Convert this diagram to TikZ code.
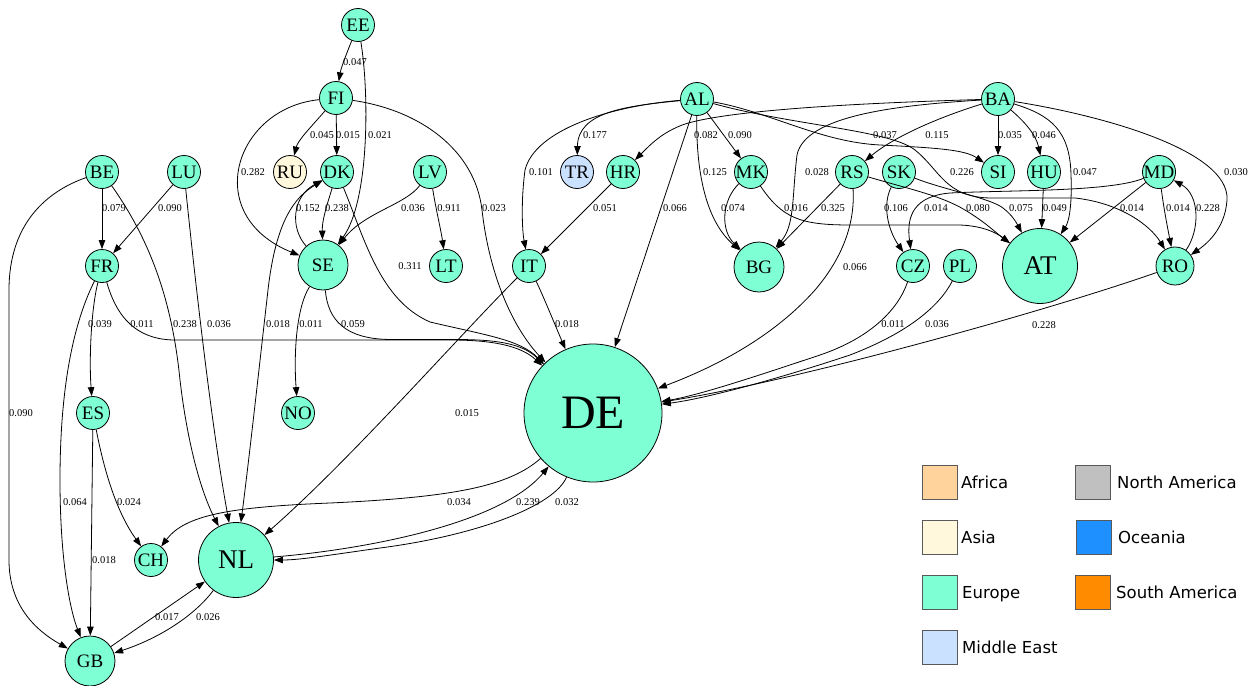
\documentclass[tikz,border=0pt]{standalone}
\usepackage{fontspec}
\setmainfont{Liberation Serif}
\newfontfamily\legendfont{DejaVu Sans}
\usetikzlibrary{arrows.meta}
\definecolor{europe}{HTML}{7FFFD4}
\definecolor{asia}{HTML}{FFF8DC}
\definecolor{africa}{HTML}{FFD39B}
\definecolor{mideast}{HTML}{CAE1FF}
\definecolor{namerica}{HTML}{C0C0C0}
\definecolor{oceania}{HTML}{1E90FF}
\definecolor{samerica}{HTML}{FF8C00}
\begin{document}
\begin{tikzpicture}[x=1pt,y=-1pt,
  >={Triangle[length=9pt,width=6.5pt]},
  country/.style={circle,draw=black,line width=0.8pt,fill=europe,inner sep=0pt,
    minimum size=33pt,font=\fontsize{19}{19}\selectfont},
  midc/.style={country,minimum size=50pt},
  bigc/.style={country,minimum size=75pt,font=\fontsize{27}{27}\selectfont},
  hugec/.style={country,minimum size=138pt,font=\fontsize{48}{48}\selectfont},
  flow/.style={draw,line width=0.8pt,->},
  twoway/.style={draw,line width=0.8pt,<->},
  lab/.style={font=\fontsize{10.5}{10.5}\selectfont,inner sep=0pt},
  keybox/.style={draw=black!65,line width=1pt,minimum width=35pt,minimum height=34pt,inner sep=0pt},
  keytext/.style={anchor=base west,inner sep=0pt,font=\legendfont\fontsize{16.5}{16.5}\selectfont}
]
\useasboundingbox (0,0) rectangle (1257,685);

% countries
\node[country] (EE) at (358,25) {EE};
\node[country] (FI) at (336,98) {FI};
\node[country,fill=asia] (RU) at (290,172) {RU};
\node[country] (DK) at (337,172) {DK};
\node[country] (LV) at (430,172) {LV};
\node[midc] (SE) at (323,265) {SE};
\node[country] (LT) at (446,266) {LT};
\node[country] (IT) at (529,266) {IT};
\node[country] (AL) at (697,99) {AL};
\node[country,fill=mideast] (TR) at (577,172) {TR};
\node[country] (HR) at (623,172) {HR};
\node[country] (MK) at (751,172) {MK};
\node[midc] (BG) at (759,267) {BG};
\node[country] (BA) at (998,99) {BA};
\node[country] (RS) at (852,172) {RS};
\node[country] (SK) at (899,172) {SK};
\node[country] (SI) at (998,172) {SI};
\node[country] (HU) at (1044,172) {HU};
\node[country] (MD) at (1159,172) {MD};
\node[country] (CZ) at (913,266) {CZ};
\node[country] (PL) at (960,266) {PL};
\node[bigc] (AT) at (1040,266) {AT};
\node[country,minimum size=38pt] (RO) at (1175,266) {RO};
\node[country] (BE) at (102,172) {BE};
\node[country] (LU) at (184,172) {LU};
\node[country] (FR) at (102,266) {FR};
\node[country] (ES) at (93,413) {ES};
\node[country] (NO) at (298,413) {NO};
\node[hugec] (DE) at (593,413) {DE};
\node[country] (CH) at (151,560) {CH};
\node[bigc] (NL) at (236,560) {NL};
\node[midc] (GB) at (90,661) {GB};

% flows
\draw[flow] (EE) .. controls (346,55) and (341,68) .. (FI);
\draw[flow] (EE) .. controls (369,90) and (370,200) .. (SE);
\draw[flow] (FI) .. controls (312,126) and (298,140) .. (RU);
\draw[flow] (FI) -- (DK);
\draw[flow] (FI) .. controls (235,108) and (200,215) .. (SE);
\draw[flow] (FI) .. controls (420,110) and (475,150) .. (482,210) .. controls (490,280) and (515,330) .. (DE);
\draw[flow] (DK) .. controls (327,205) and (322,220) .. (SE);
\draw[flow] (SE) .. controls (290,228) and (292,197) .. (DK);
\draw[twoway] (NL) .. controls (249,460) and (260,360) .. (268,290) .. controls (276,220) and (295,197) .. (DK);
\draw[flow] (DK) .. controls (365,240) and (380,300) .. (430,322) .. controls (490,336) and (520,340) .. (DE);
\draw[flow] (LV) .. controls (405,205) and (365,212) .. (SE);
\draw[flow] (LV) .. controls (436,210) and (441,230) .. (LT);
\draw[flow] (AL) .. controls (625,106) and (578,112) .. (TR);
\draw[flow] (AL) .. controls (610,106) and (535,130) .. (525,170) .. controls (521,200) and (522,230) .. (IT);
\draw[flow] (BA) .. controls (860,103) and (730,110) .. (685,124) .. controls (662,132) and (650,145) .. (HR);
\draw[flow] (AL) -- (MK);
\draw[flow] (AL) .. controls (696,170) and (705,220) .. (BG);
\draw[flow] (AL) -- (DE);
\draw[flow] (HR) -- (IT);
\draw[flow] (MK) .. controls (722,200) and (720,230) .. (BG);
\draw[flow] (MK) .. controls (782,218) and (800,225) .. (850,225) -- (960,225) .. controls (985,226) and (998,234) .. (AT);
\draw[flow] (RS) -- (BG);
\draw[flow] (BA) .. controls (900,105) and (805,115) .. (797,155) .. controls (792,195) and (795,225) .. (BG);
\draw[flow] (BA) .. controls (930,120) and (890,140) .. (RS);
\draw[flow] (AL) .. controls (770,112) and (820,142) .. (880,145) .. controls (940,148) and (965,150) .. (SI);
\draw[flow] (AL) .. controls (790,125) and (890,130) .. (915,150) .. controls (940,170) and (945,197) .. (990,198) -- (1075,198) .. controls (1120,203) and (1150,225) .. (RO);
\draw[flow] (BA) -- (SI);
\draw[flow] (BA) .. controls (1025,122) and (1036,135) .. (HU);
\draw[flow] (BA) .. controls (1050,115) and (1070,130) .. (1071,175) .. controls (1072,200) and (1070,220) .. (AT);
\draw[flow] (BA) .. controls (1100,115) and (1230,150) .. (1227,200) .. controls (1225,230) and (1205,245) .. (RO);
\draw[flow] (HU) -- (AT);
\draw[flow] (MD) -- (AT);
\draw[flow] (MD) .. controls (1164,210) and (1168,230) .. (RO);
\draw[flow] (RO) .. controls (1200,230) and (1200,195) .. (MD);
\draw[flow] (MD) .. controls (1110,192) and (1010,190) .. (950,193) .. controls (915,196) and (906,215) .. (CZ);
\draw[flow] (SK) .. controls (882,205) and (888,230) .. (CZ);
\draw[flow] (RS) .. controls (905,188) and (940,195) .. (965,210) .. controls (985,222) and (995,232) .. (AT);
\draw[flow] (SK) .. controls (945,190) and (990,198) .. (1003,208) .. controls (1012,215) and (1016,222) .. (AT);
\draw[flow] (RS) .. controls (855,220) and (845,255) .. (815,290) .. controls (775,335) and (720,365) .. (DE);
\draw[flow] (CZ) .. controls (898,310) and (870,338) .. (820,355) .. controls (760,375) and (700,395) .. (DE);
\draw[flow] (PL) .. controls (940,305) and (910,332) .. (850,355) .. controls (790,375) and (710,398) .. (DE);
\draw[flow] (RO) .. controls (1050,310) and (800,380) .. (DE);
\draw[flow] (IT) .. controls (545,300) and (555,325) .. (DE);
\draw[flow] (IT) .. controls (460,335) and (350,460) .. (NL);
\draw[flow] (FR) .. controls (112,300) and (125,340) .. (175,340) -- (450,340) .. controls (490,340) and (520,345) .. (DE);
\draw[flow] (SE) .. controls (328,320) and (345,339) .. (390,339.5) -- (455,339.5) .. controls (495,339.5) and (522,343) .. (DE);
\draw[flow] (SE) .. controls (295,310) and (294,360) .. (NO);
\draw[flow] (BE) -- (FR);
\draw[flow] (LU) -- (FR);
\draw[flow] (BE) .. controls (150,240) and (172,300) .. (180,380) .. controls (187,440) and (200,490) .. (NL);
\draw[flow] (LU) .. controls (195,280) and (212,430) .. (NL);
\draw[flow] (BE) .. controls (45,192) and (9,225) .. (9,290) -- (9,560) .. controls (9,605) and (35,630) .. (GB);
\draw[flow] (FR) .. controls (91,310) and (89,360) .. (ES);
\draw[flow] (FR) .. controls (70,330) and (60,400) .. (60,480) .. controls (60,560) and (70,610) .. (GB);
\draw[flow] (ES) -- (GB);
\draw[flow] (ES) .. controls (103,465) and (115,510) .. (CH);
\draw[flow] (DE) .. controls (510,485) and (460,497) .. (330,503) .. controls (230,507) and (185,515) .. (CH);
\draw[flow] (NL) .. controls (360,550) and (500,525) .. (DE);
\draw[flow] (DE) .. controls (555,505) and (480,535) .. (380,548) .. controls (330,555) and (300,560) .. (NL);
\draw[flow] (GB) -- (NL);
\draw[flow] (NL) .. controls (195,615) and (160,638) .. (GB);

% flow shares
\node[lab] (tEEFI) at (355,62) {0.047};
\node[lab] (tEESE) at (380,135) {0.021};
\node[lab] (tFIRU) at (322,135) {0.045};
\node[lab] (tFIDK) at (348,135) {0.015};
\node[lab] (tFISE) at (253,172) {0.282};
\node[lab] (tSEDK) at (308,208) {0.152};
\node[lab] (tDKSE) at (337,208) {0.238};
\node[lab] (tLVSE) at (413,208) {0.036};
\node[lab] (tLVLT) at (449,208) {0.911};
\node[lab] (tFIDE) at (494,208) {0.023};
\node[lab] (tDKDE) at (410,266) {0.311};
\node[lab] (tALIT) at (541,172) {0.101};
\node[lab] (tALTR) at (595,135) {0.177};
\node[lab] (tBAHR) at (706,135) {0.082};
\node[lab] (tALMK) at (740,135) {0.090};
\node[lab] (tALBG) at (715,172) {0.125};
\node[lab] (tALDE) at (675,208) {0.066};
\node[lab] (tHRIT) at (605,208) {0.051};
\node[lab] (tMKBG) at (733,208) {0.074};
\node[lab] (tMKAT) at (796,208) {0.016};
\node[lab] (tBABG) at (817,172) {0.028};
\node[lab] (tRSBG) at (833,208) {0.325};
\node[lab] (tALSI) at (885,135) {0.037};
\node[lab] (tBARS) at (937,135) {0.115};
\node[lab] (tBASI) at (1010,135) {0.035};
\node[lab] (tBAHU) at (1044,135) {0.046};
\node[lab] (tBAAT) at (1085,172) {0.047};
\node[lab] (tBARO) at (1236,172) {0.030};
\node[lab] (tALRO) at (962,172) {0.226};
\node[lab] (tSKCZ) at (896,208) {0.106};
\node[lab] (tMDCZ) at (936,208) {0.014};
\node[lab] (tRSAT) at (978,208) {0.080};
\node[lab] (tSKAT) at (1021,208) {0.075};
\node[lab] (tHUAT) at (1055,208) {0.049};
\node[lab] (tMDAT) at (1132,208) {0.014};
\node[lab] (tMDRO) at (1178,208) {0.014};
\node[lab] (tROMD) at (1208,208) {0.228};
\node[lab] (tRSDE) at (855,267) {0.066};
\node[lab] (tCZDE) at (893,324) {0.011};
\node[lab] (tPLDE) at (937,324) {0.036};
\node[lab] (tRODE) at (1044,325) {0.228};
\node[lab] (tITDE) at (567,324) {0.018};
\node[lab] (tITNL) at (467,413) {0.015};
\node[lab] (tBEFR) at (114,208) {0.079};
\node[lab] (tLUFR) at (170,208) {0.090};
\node[lab] (tFRES) at (100,324) {0.039};
\node[lab] (tFRDE) at (142,324) {0.011};
\node[lab] (tBENL) at (185,324) {0.238};
\node[lab] (tLUNL) at (219,324) {0.036};
\node[lab] (tNLDK) at (278,324) {0.018};
\node[lab] (tSENO) at (311,324) {0.011};
\node[lab] (tSEDE) at (353,324) {0.059};
\node[lab] (tBEGB) at (21,413) {0.090};
\node[lab] (tFRGB) at (75,502) {0.064};
\node[lab] (tESCH) at (129,502) {0.024};
\node[lab] (tESGB) at (104,560) {0.018};
\node[lab] (tDECH) at (459,502) {0.034};
\node[lab] (tNLDE) at (528,502) {0.239};
\node[lab] (tDENL) at (567,502) {0.032};
\node[lab] (tGBNL) at (167,617) {0.017};
\node[lab] (tNLGB) at (208,617) {0.026};

% continents key
\node[keybox,fill=africa] (kAF) at (939.5,482) {};
\node[keytext] (kAFt) at (961,488) {Africa};
\node[keybox,fill=namerica] (kNA) at (1093,482) {};
\node[keytext] (kNAt) at (1117,488) {North America};
\node[keybox,fill=asia] (kAS) at (939.5,537) {};
\node[keytext] (kASt) at (961,543) {Asia};
\node[keybox,fill=oceania] (kOC) at (1094,537) {};
\node[keytext] (kOCt) at (1118,543) {Oceania};
\node[keybox,fill=europe] (kEU) at (939.5,592) {};
\node[keytext] (kEUt) at (962,598) {Europe};
\node[keybox,fill=samerica] (kSA) at (1093,592) {};
\node[keytext] (kSAt) at (1116,598) {South America};
\node[keybox,fill=mideast] (kME) at (939.5,647) {};
\node[keytext] (kMEt) at (962,653) {Middle East};
\end{tikzpicture}
\end{document}
